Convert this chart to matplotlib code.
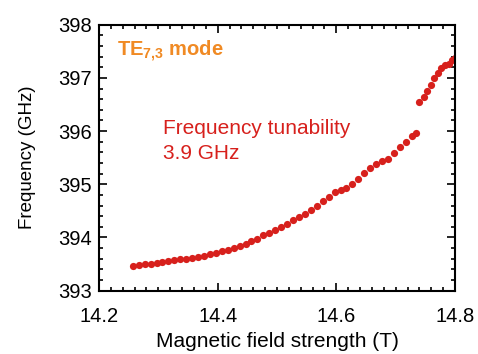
import matplotlib
matplotlib.use('Agg')
import matplotlib.pyplot as plt
from matplotlib.ticker import MultipleLocator

plt.rcParams['font.family'] = ['Liberation Sans', 'DejaVu Sans']
plt.rcParams['mathtext.fontset'] = 'custom'
plt.rcParams['mathtext.rm'] = 'Liberation Sans'
plt.rcParams['mathtext.bf'] = 'Liberation Sans:bold'

# lower branch
field_low = [14.257, 14.267, 14.277, 14.287, 14.297, 14.307, 14.317, 14.327,
             14.337, 14.347, 14.357, 14.367, 14.377, 14.387, 14.397, 14.407,
             14.417, 14.427, 14.437, 14.447, 14.457, 14.467, 14.477, 14.487,
             14.497, 14.507, 14.517, 14.527, 14.537, 14.547, 14.557, 14.567,
             14.577, 14.587, 14.597, 14.607, 14.617, 14.627, 14.637, 14.647,
             14.657, 14.667, 14.677, 14.687, 14.697, 14.707, 14.717, 14.727,
             14.735]
freq_low = [393.47, 393.49, 393.50, 393.51, 393.52, 393.54, 393.55, 393.57,
            393.59, 393.60, 393.62, 393.64, 393.66, 393.68, 393.71, 393.74,
            393.77, 393.80, 393.84, 393.88, 393.93, 393.98, 394.04, 394.09,
            394.14, 394.20, 394.26, 394.32, 394.38, 394.45, 394.52, 394.60,
            394.68, 394.77, 394.85, 394.90, 394.93, 395.00, 395.10, 395.21,
            395.31, 395.38, 395.43, 395.48, 395.58, 395.70, 395.80, 395.90,
            395.96]

# upper branch after the jump
field_high = [14.739, 14.747, 14.753, 14.759, 14.765, 14.771, 14.777, 14.783,
              14.789, 14.795, 14.800]
freq_high = [396.55, 396.64, 396.76, 396.87, 397.00, 397.10, 397.19, 397.24,
             397.26, 397.34, 397.38]

red = '#d7201c'
orange = '#f08a24'

fig = plt.figure(figsize=(4.78, 3.54), dpi=100)
ax = fig.add_axes([0.207, 0.179, 0.745, 0.751])

ax.plot(field_low + field_high, freq_low + freq_high, 'o', color=red,
        markersize=5.2, markeredgewidth=0)

ax.set_xlim(14.2, 14.8)
ax.set_ylim(393, 398)
ax.xaxis.set_major_locator(MultipleLocator(0.2))
ax.xaxis.set_minor_locator(MultipleLocator(0.02))
ax.yaxis.set_major_locator(MultipleLocator(1))
ax.yaxis.set_minor_locator(MultipleLocator(0.2))
ax.tick_params(which='both', direction='in', top=True, right=True, width=1.2)
ax.tick_params(which='major', length=6, labelsize=14.5)
ax.tick_params(axis='x', which='major', pad=12)
ax.tick_params(axis='y', which='major', pad=5)
ax.tick_params(which='minor', length=3)
for s in ax.spines.values():
    s.set_linewidth(1.5)

ax.set_xlabel('Magnetic field strength (T)', fontsize=15, labelpad=4)
ax.set_ylabel('Frequency (GHz)', fontsize=13.5, labelpad=16)

ax.text(14.23, 397.5, r'TE$_{\mathbf{7{,}3}}$ mode', color=orange,
        fontsize=14.5, fontweight='bold', va='center')
ax.text(14.308, 396.22, 'Frequency tunability\n3.9 GHz', color=red,
        fontsize=15, va='top', linespacing=1.35)

fig.savefig('out.png', dpi=100)
